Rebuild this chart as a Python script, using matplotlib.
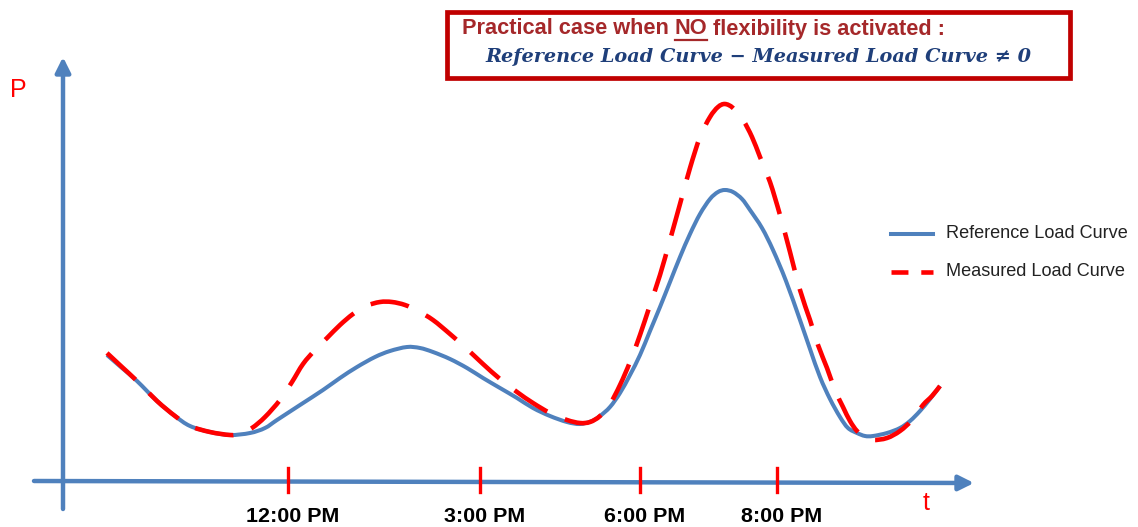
import matplotlib
matplotlib.use("Agg")
import matplotlib.pyplot as plt
from matplotlib.patches import Rectangle, PathPatch
from matplotlib.path import Path
from matplotlib.lines import Line2D

# ---- data (schematic: t = horizontal position, P = curve height) ----
ref_t = [107,122,137,157,175,190,210,230,250,265,277,300,323,340,357,375,390,407,420,433,450,467,483,500,517,533,550,567,580,592,600,610,620,630,640,650,660,670,680,690,700,710,718,725,733,742,750,762,773,786,800,810,820,830,840,848,857,865,873,887,900,910,920,930,940]
ref_y = [355,368,381,401,416,426,432,435,433,428,420,405,390,378,367,357,351,347,348,352,359,368,378,388,398,408,416,422,424,421,416,407,393,375,355,331,307,282,257,234,214,199,192,190,192,199,210,228,250,281,320,349,377,399,417,428,433,436,436,433,428,421,411,399,386]
meas_t = [107,122,137,157,175,190,210,230,240,252,265,280,292,303,315,327,340,353,366,380,392,405,418,433,450,467,483,500,517,533,550,567,580,590,600,610,620,630,640,650,660,670,680,690,700,710,718,725,733,743,752,760,770,780,790,800,810,818,827,835,843,850,857,865,873,887,900,912,923,932,940]
meas_y = [353,367,381,401,416,426,432,435,434,428,417,400,382,364,350,338,325,314,306,302,302,305,311,320,334,349,364,379,392,403,413,420,423,422,416,404,385,362,335,305,275,240,204,168,137,117,107,104,108,120,137,157,182,215,252,290,320,345,368,390,407,421,431,437,440,438,431,420,405,396,386]
tick_pos = [288, 480, 640, 777]
tick_labels = ["12:00 PM", "3:00 PM", "6:00 PM", "8:00 PM"]
series_names = ["Reference Load Curve", "Measured Load Curve"]

BLUE = "#4F81BD"
RED = "#FF0000"
DARKRED = "#A5282A"

fig = plt.figure(figsize=(11.38, 5.27), dpi=100)
ax = fig.add_axes([0, 0, 1, 1])
ax.set_xlim(0, 1138)
ax.set_ylim(527, 0)
ax.axis("off")
fig.canvas.draw()
r = fig.canvas.get_renderer()


def smooth_path(xs, ys):
    """Smooth (Catmull-Rom style) Bezier path passing through the read points."""
    pts = list(zip(xs, ys))
    n = len(pts)
    verts = [pts[0]]
    codes = [Path.MOVETO]
    for i in range(n - 1):
        p0 = pts[max(i - 1, 0)]
        p1 = pts[i]
        p2 = pts[i + 1]
        p3 = pts[min(i + 2, n - 1)]
        c1 = (p1[0] + (p2[0] - p0[0]) / 6.0, p1[1] + (p2[1] - p0[1]) / 6.0)
        c2 = (p2[0] - (p3[0] - p1[0]) / 6.0, p2[1] - (p3[1] - p1[1]) / 6.0)
        verts += [c1, c2, p2]
        codes += [Path.CURVE4] * 3
    return Path(verts, codes)


def fit_text(t, width):
    """Scale a text's font size so it spans the given width in data units."""
    for _ in range(3):
        bb = t.get_window_extent(renderer=r)
        w = bb.width * 1138.0 / fig.bbox.width
        t.set_fontsize(t.get_fontsize() * width / w)
    return t


# axes arrows
ax.annotate("", xy=(63, 57), xytext=(63, 509),
            arrowprops=dict(arrowstyle="-|>,head_length=0.9,head_width=0.45", color=BLUE, lw=3.2, shrinkA=0, shrinkB=0))
ax.annotate("", xy=(974, 483), xytext=(34, 481),
            arrowprops=dict(arrowstyle="-|>,head_length=0.9,head_width=0.45", color=BLUE, lw=3.2, shrinkA=0, shrinkB=0))

# curves
ax.add_patch(PathPatch(smooth_path(ref_t, ref_y), fill=False, edgecolor=BLUE, lw=2.9, zorder=3,
                       capstyle="butt"))
ax.add_patch(PathPatch(smooth_path(meas_t, meas_y), fill=False, edgecolor=RED, lw=3.3, zorder=4,
                       linestyle=(0, (8.5, 4.2)), capstyle="butt"))

# ticks
for x, lab in zip(tick_pos, tick_labels):
    ax.plot([x, x], [468, 492], color=RED, lw=2.4, zorder=5)
    ax.text(x + 5, 517, lab, ha="center", va="center", fontsize=15, fontweight="bold",
            family="Liberation Sans", color="black")
fit_text(ax.texts[-4], 93)
fs_tick = ax.texts[-4].get_fontsize()
for t in ax.texts[-3:]:
    t.set_fontsize(fs_tick)

ax.text(18, 90, "P", color=RED, fontsize=18, family="Liberation Sans", ha="center", va="center")
ax.text(926, 503, "t", color=RED, fontsize=18, family="Liberation Sans", ha="center", va="center")

# legend (drawn manually)
ax.add_line(Line2D([891, 933], [234, 234], color=BLUE, lw=2.9))
ax.add_line(Line2D([891, 933], [272, 272], color=RED, lw=3.3, dashes=(3.7, 2.8), dash_capstyle="butt"))
l1 = ax.text(946, 234, series_names[0], fontsize=13, family="Liberation Sans", va="center", ha="left", color="#222222")
fit_text(l1, 182)
ax.text(946, 272, series_names[1], fontsize=l1.get_fontsize(), family="Liberation Sans", va="center",
        ha="left", color="#222222")

# title box
ax.add_patch(Rectangle((447, 12), 623, 66, fill=False, edgecolor="#C00000", lw=3.4, zorder=6))
full = ax.text(462, 29, "Practical case when NO flexibility is activated :", fontsize=15.5, fontweight="bold",
               family="Liberation Sans", va="center", ha="left", alpha=0)
fit_text(full, 484)
fs1 = full.get_fontsize()
full.remove()
inv = ax.transData.inverted()
parts = ["Practical case when ", "NO", " flexibility is activated :"]
x0 = 462
for p in parts:
    tt = ax.text(x0, 29, p, fontsize=fs1, fontweight="bold", family="Liberation Sans",
                 color=DARKRED, va="center", ha="left")
    bb = tt.get_window_extent(renderer=r)
    (xa, _), (xb, _) = inv.transform([[bb.x0, bb.y0], [bb.x1, bb.y1]])
    if p == "NO":
        ax.plot([xa, xb], [39.5, 39.5], color=DARKRED, lw=1.6)
    x0 = xb
eq = ax.text(485, 57, "Reference Load Curve − Measured Load Curve ≠ 0", fontsize=15, fontweight="bold",
             style="italic", family=["DejaVu Serif"], color="#1F3F7A", va="center", ha="left")
fit_text(eq, 545)

fig.savefig("out.png", dpi=100)
